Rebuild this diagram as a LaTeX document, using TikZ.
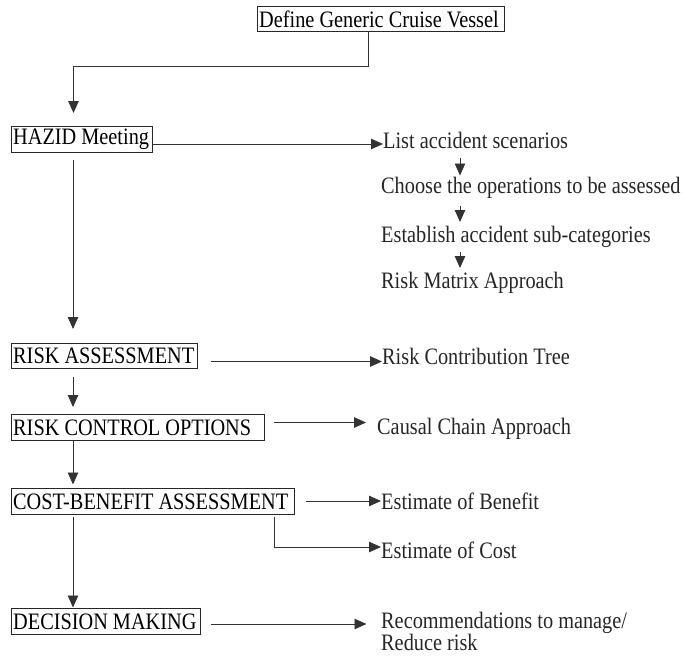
\documentclass[tikz,border=0pt]{standalone}
\usepackage{fontspec}
\setmainfont{Liberation Serif}
\usetikzlibrary{arrows.meta}
% text set a little taller than wide
\newcommand{\tallt}[1]{\scalebox{1}[1.16]{#1}}
\newcommand{\boxt}[2]{\makebox[#1][l]{\tallt{#2}}}
\tikzset{
  box/.style={draw=black!85, line width=1.4pt, inner xsep=1.5pt, inner ysep=0pt,
    anchor=north west, font=\fontsize{20.3}{22.5}\selectfont},
  lbl/.style={inner sep=0pt, anchor=west, align=left,
    font=\fontsize{20.3}{22.5}\selectfont, text=black!85},
  link/.style={draw=black!80, line width=0.9pt},
  arr/.style={link, -{Triangle[length=12pt,width=10.5pt]}},
}
\begin{document}
\begin{tikzpicture}[x=1pt,y=-1pt]
\useasboundingbox (0,0) rectangle (686,656);
% main chain of boxes
\node[box, minimum height=25pt] (def) at (257,6) {\boxt{244pt}{Define Generic Cruise Vessel}};
\node[box, minimum height=26pt] (hazid) at (11,126) {\boxt{138pt}{HAZID Meeting}};
\node[box, minimum height=24.5pt] (ra) at (11,343) {\boxt{183pt}{RISK ASSESSMENT}};
\node[box, minimum height=26pt] (rco) at (11,414) {\boxt{250pt}{RISK CONTROL OPTIONS}};
\node[box, minimum height=25.5pt] (cba) at (11,488) {\boxt{280pt}{COST-BENEFIT ASSESSMENT}};
\node[box, minimum height=26pt] (dm) at (11,608) {\boxt{186pt}{DECISION MAKING}};

% outcomes on the right
\node[lbl] (lac) at (383,140) {\tallt{List accident scenarios}};
\node[lbl] (cho) at (381,188) {\tallt{Choose the operations to be assessed}};
\node[lbl] (est) at (381,236.5) {\tallt{Establish accident sub-categories}};
\node[lbl] (rma) at (381,283) {\tallt{Risk Matrix Approach}};
\node[lbl] (rct) at (382,356) {\tallt{Risk Contribution Tree}};
\node[lbl] (cca) at (377,429) {\tallt{Causal Chain Approach}};
\node[lbl] (eob) at (381,501.5) {\tallt{Estimate of Benefit}};
\node[lbl] (eoc) at (381,550) {\tallt{Estimate of Cost}};
\node[lbl, font=\fontsize{20.3}{21.5}\selectfont] (rec) at (381,631.5) {\tallt{Recommendations to manage/}\\\tallt{Reduce risk}};

% connector ends
\coordinate (bend1) at (368,66.5);
\coordinate (bend2) at (73.5,66.5);
\coordinate (hz0) at (73,160);
\coordinate (ra0) at (73,377);
\coordinate (cbae) at (274.5,517);
\coordinate (cbab) at (274.5,547);
\coordinate (cbad) at (73,517);

\draw[arr] (def.south -| bend1) -- (bend1) -- (bend2) -- (73.5,113);
\draw[arr] (hazid.east |- 0,144) -- (383,144);
\draw[arr] (hz0) -- (73,329);
\draw[arr] (460,158) -- (460,175.5);
\draw[arr] (460,206) -- (460,222);
\draw[arr] (460,252) -- (460,268);
\draw[arr] (211,361.5) -- (382,361.5);
\draw[arr] (ra0) -- (73,407);
\draw[arr] (274,422.5) -- (366,422.5);
\draw[arr] (rco.south -| ra0) -- (73,484.5);
\draw[arr] (306,501) -- (381,501);
\draw[arr] (cbae) -- (cbab) -- (eoc.west |- cbab);
\draw[arr] (cbad) -- (73,607.5);
\draw[arr] (211,624) -- (366.5,624);
\end{tikzpicture}
\end{document}
